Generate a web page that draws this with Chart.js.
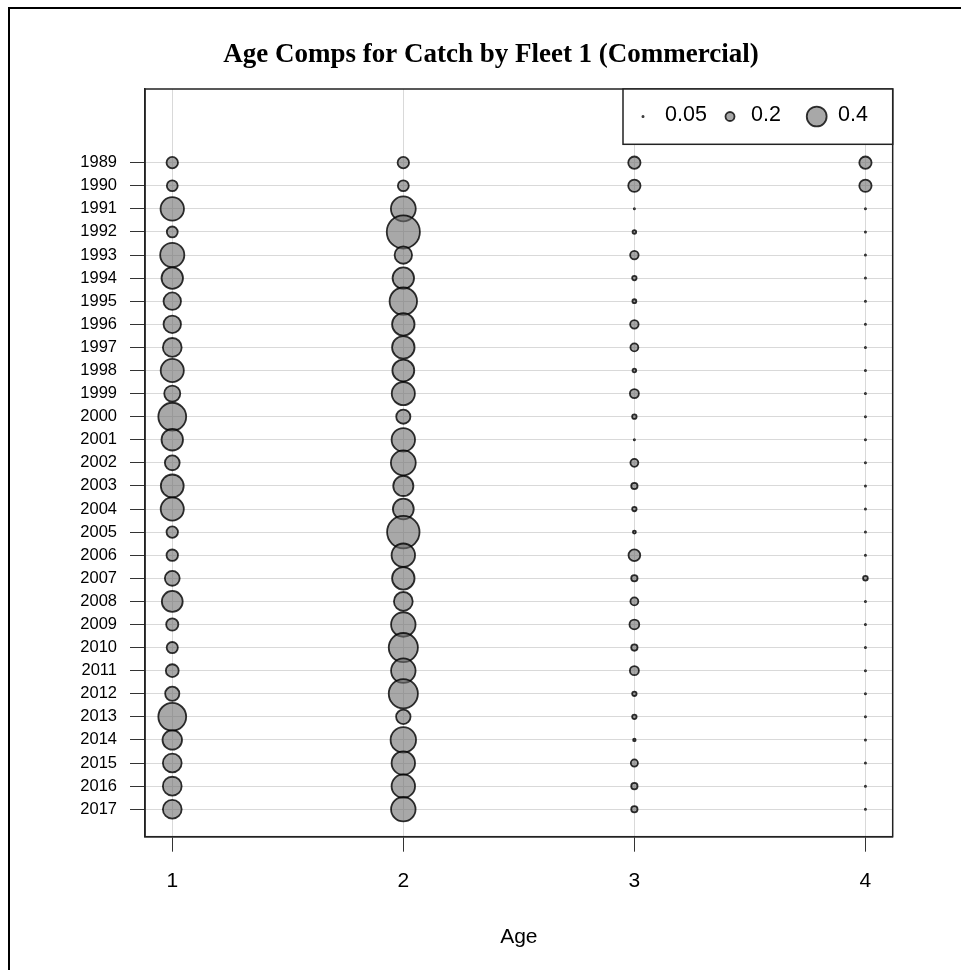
<!DOCTYPE html>
<html>
<head>
<meta charset="utf-8">
<title>Age Comps for Catch by Fleet 1 (Commercial)</title>
<script src="https://cdn.jsdelivr.net/npm/chart.js@4.4.1/dist/chart.umd.min.js"></script>
<style>
  html, body { margin: 0; padding: 0; background: #fff; overflow: hidden; }
  #frame { position: absolute; left: 8px; top: 7px; width: 970px; height: 980px;
           border-top: 2px solid #000; border-left: 2px solid #000; }
  #wrap { position: absolute; left: 0; top: 0; width: 961px; height: 970px; }
</style>
</head>
<body>
<div id="frame"></div>
<div id="wrap"><canvas id="bubbleChart"></canvas></div>
<script>
// Años (eje y) y edades (eje x)
const years = [1989, 1990, 1991, 1992, 1993, 1994, 1995, 1996, 1997, 1998,
               1999, 2000, 2001, 2002, 2003, 2004, 2005, 2006, 2007, 2008,
               2009, 2010, 2011, 2012, 2013, 2014, 2015, 2016, 2017];
const ages = [1, 2, 3, 4];

// Proporciones, una lista por edad
const age1 = [0.245, 0.234, 0.466, 0.234, 0.479, 0.43, 0.356, 0.356, 0.38, 0.46,
              0.33, 0.547, 0.43, 0.307, 0.455, 0.46, 0.245, 0.245, 0.307, 0.418,
              0.258, 0.24, 0.27, 0.295, 0.547, 0.393, 0.38, 0.38, 0.38];
const age2 = [0.245, 0.235, 0.492, 0.645, 0.356, 0.43, 0.54, 0.448, 0.448, 0.437,
              0.46, 0.295, 0.466, 0.492, 0.405, 0.418, 0.632, 0.466, 0.448, 0.38,
              0.485, 0.571, 0.485, 0.571, 0.30, 0.503, 0.466, 0.466, 0.485];
const age3 = [0.26, 0.26, 0.035, 0.10, 0.19, 0.115, 0.105, 0.19, 0.18, 0.10,
              0.20, 0.115, 0.05, 0.18, 0.15, 0.115, 0.09, 0.25, 0.15, 0.18,
              0.215, 0.15, 0.20, 0.115, 0.115, 0.08, 0.165, 0.15, 0.15];
const age4 = [0.26, 0.26, 0.02, 0.01, 0.01, 0.04, 0.02, 0.02, 0.03, 0.03,
              0.03, 0.03, 0.04, 0.02, 0.02, 0.02, 0.02, 0.04, 0.12, 0.03,
              0.03, 0.04, 0.04, 0.02, 0.04, 0.02, 0.03, 0.03, 0.02];

// Valores de la leyenda
const legendValues = [0.05, 0.2, 0.4];

const byAge = [age1, age2, age3, age4];

// Diámetro proporcional al valor
const PX_PER_UNIT = 27.1;
function bubbleRadius(v) {
    return Math.max(v * PX_PER_UNIT - 0.9, 0.6);
}

const puntos = [];
ages.forEach((edad, i) => {
    years.forEach((anio, j) => {
        puntos.push({ x: edad, y: anio, v: byAge[i][j] });
    });
});

const fillColor = 'rgba(110, 110, 110, 0.6)';
const lineColor = 'rgba(0, 0, 0, 0.8)';

// Caja del gráfico, título y leyenda de tamaños
const marcoPlugin = {
    id: 'marco',
    afterDatasetsDraw(chart) {
        const ctx = chart.ctx;
        const a = chart.chartArea;
        ctx.save();
        ctx.strokeStyle = '#222';
        ctx.lineWidth = 1.5;
        ctx.strokeRect(a.left, a.top, a.right - a.left, a.bottom - a.top);

        // leyenda
        const lx = 623, ly = a.top, lh = 55.3;
        ctx.fillStyle = '#fff';
        ctx.fillRect(lx, ly, a.right - lx, lh);
        ctx.strokeRect(lx, ly, a.right - lx, lh);
        const cy = ly + 27.5;
        const dotX = [643, 730, 816.7];
        const textX = [665, 751, 838];
        legendValues.forEach((v, i) => {
            ctx.beginPath();
            ctx.arc(dotX[i], cy, bubbleRadius(v), 0, Math.PI * 2);
            ctx.fillStyle = fillColor;
            ctx.fill();
            ctx.lineWidth = 1.8;
            ctx.strokeStyle = lineColor;
            ctx.stroke();
            ctx.fillStyle = '#000';
            ctx.font = '21.5px "Liberation Sans", Arial, sans-serif';
            ctx.textAlign = 'left';
            ctx.textBaseline = 'middle';
            ctx.fillText(String(v), textX[i], cy - 1);
        });

        // título
        ctx.fillStyle = '#000';
        ctx.font = 'bold 27px "Liberation Serif", "Times New Roman", serif';
        ctx.textAlign = 'center';
        ctx.textBaseline = 'alphabetic';
        ctx.fillText('Age Comps for Catch by Fleet 1 (Commercial)', 491, 62);
        ctx.restore();
    }
};

const ctx = document.getElementById('bubbleChart').getContext('2d');
const chart = new Chart(ctx, {
    type: 'scatter',
    data: {
        datasets: [{
            label: 'Age comps',
            data: puntos,
            backgroundColor: fillColor,
            borderColor: lineColor,
            borderWidth: 1.8,
            pointRadius: c => bubbleRadius(c.raw.v),
            pointHoverRadius: c => bubbleRadius(c.raw.v)
        }]
    },
    options: {
        responsive: true,
        maintainAspectRatio: false,
        animation: false,
        events: [],
        layout: {
            padding: { left: 0, top: 89, right: 68.3, bottom: 0 }
        },
        plugins: {
            legend: { display: false },
            tooltip: { enabled: false },
            title: { display: false }
        },
        scales: {
            x: {
                type: 'linear',
                min: 0.882,
                max: 4.118,
                afterFit: s => { s.height = 133.3; },
                afterBuildTicks: s => { s.ticks = ages.map(v => ({ value: v })); },
                grid: {
                    color: '#d9d9d9',
                    lineWidth: 1,
                    tickColor: '#333',
                    tickLength: 15,
                    tickWidth: 1
                },
                border: { display: true, color: '#222', width: 1.5 },
                ticks: {
                    color: '#000',
                    padding: 17,
                    font: { family: '"Liberation Sans", Arial, sans-serif', size: 21 },
                    callback: v => String(v)
                },
                title: {
                    display: true,
                    text: 'Age',
                    color: '#000',
                    font: { family: '"Liberation Sans", Arial, sans-serif', size: 21 },
                    padding: { top: 0, bottom: 20 }
                }
            },
            y: {
                type: 'linear',
                reverse: true,
                min: 1985.81,
                max: 2018.19,
                afterFit: s => { s.width = 145; },
                afterBuildTicks: s => { s.ticks = years.map(v => ({ value: v })); },
                grid: {
                    color: '#d9d9d9',
                    lineWidth: 1,
                    tickColor: '#333',
                    tickLength: 15,
                    tickWidth: 1
                },
                border: { display: true, color: '#222', width: 1.5 },
                ticks: {
                    color: '#000',
                    padding: 13,
                    autoSkip: false,
                    font: { family: '"Liberation Sans", Arial, sans-serif', size: 16.5 },
                    callback: v => String(v)
                }
            }
        }
    },
    plugins: [marcoPlugin]
});
</script>
</body>
</html>
